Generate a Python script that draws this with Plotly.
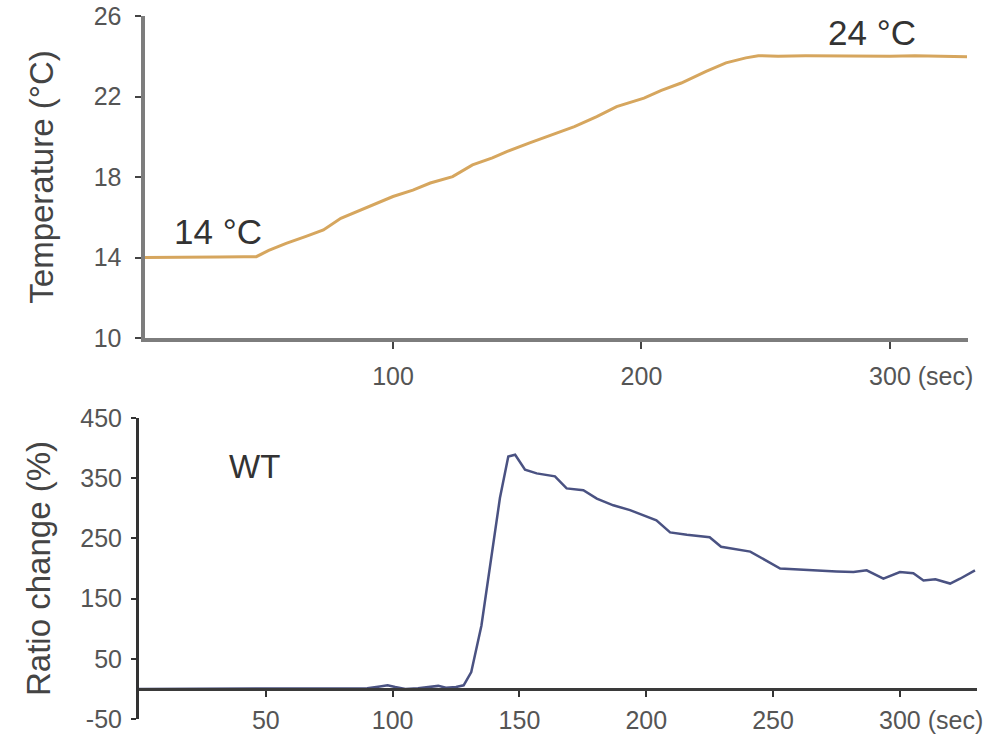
import plotly.graph_objects as go

# Temperature protocol (s, °C)
temp_time = [0, 10, 20, 30, 40, 45, 50, 57, 65, 72, 79, 90, 100, 108, 115, 124,
             132, 140, 146, 155, 166, 173, 182, 190, 201, 208, 216, 226, 234,
             242, 247, 255, 266, 280, 290, 300, 310, 320, 331]
temp_c = [14.0, 14.0, 14.02, 14.03, 14.04, 14.04, 14.35, 14.7, 15.05, 15.37,
          15.95, 16.5, 17.03, 17.35, 17.7, 18.02, 18.6, 18.95, 19.27, 19.7,
          20.18, 20.5, 21.0, 21.5, 21.92, 22.3, 22.67, 23.25, 23.67, 23.92,
          24.03, 24.0, 24.02, 24.0, 23.98, 24.0, 24.02, 24.0, 23.98]

# WT ratio change (s, %)
ratio_time = [0, 10, 20, 30, 40, 50, 60, 70, 80, 90, 95, 98, 101, 105, 110,
              115, 118, 121, 125, 128, 131, 135, 139, 142.3, 145.6, 148.3,
              152.2, 156.8, 164, 168.6, 175.2, 180.5, 187, 193.6, 204, 209.4,
              216, 225, 229.5, 241, 252.8, 260, 267.2, 275, 281.7, 286.9,
              293.5, 300, 305.3, 309.3, 314, 319.8, 323.7, 329.6]
ratio_pct = [0, 0, 0, 0, 0, 1, 0, 0, 0, 1, 4, 6, 3, 0, 1, 4, 5, 2, 3, 6, 28,
             105, 222, 317, 386, 389, 364, 358, 353, 333, 330, 316, 305, 297,
             280, 260, 256, 252, 236, 228, 200, 198, 197, 195, 194, 197, 183,
             194, 192, 180, 182, 175, 183, 197]

temp_ticks = [10, 14, 18, 22, 26]
temp_xticks = [100, 200, 300]
ratio_ticks = [-50, 50, 150, 250, 350, 450]
ratio_xticks = [50, 100, 150, 200, 250, 300]

W, H = 993, 740
FONT = "Liberation Sans, Arial, sans-serif"
TICK_COLOR = "#555555"
NBSP = "\u00a0"


def with_unit(values):
    """Tick texts with the time unit after the last one; the number stays
    centred on its tick by padding the left side equally."""
    texts = [str(v) for v in values]
    texts[-1] = NBSP * 9 + texts[-1] + NBSP + "(sec)"
    return texts


fig = go.Figure()
fig.add_trace(go.Scatter(x=temp_time, y=temp_c, mode="lines",
                         line=dict(color="#d6a65e", width=3),
                         xaxis="x", yaxis="y", showlegend=False))
fig.add_trace(go.Scatter(x=ratio_time, y=ratio_pct, mode="lines",
                         line=dict(color="#4a5282", width=2.5),
                         xaxis="x2", yaxis="y2", showlegend=False))

# panel geometry in pixels
top_x0, top_x1, top_y0, top_y1 = 144.5, 968, 16, 338
bot_x0, bot_x1, bot_y0, bot_y1 = 139, 977, 418, 719
zero_px = 689


def px_x(p):
    return p / W


def px_y(p):
    return 1 - p / H


tickfont = dict(family=FONT, size=25, color=TICK_COLOR)
titlefont = dict(family=FONT, size=33, color="#444444")

fig.update_layout(
    width=W, height=H,
    margin=dict(l=0, r=0, t=0, b=0, autoexpand=False),
    paper_bgcolor="white", plot_bgcolor="white",
    font=dict(family=FONT),
    xaxis=dict(domain=[px_x(top_x0), px_x(top_x1)], range=[0, 331.4],
               anchor="y", tickmode="array", tickvals=temp_xticks,
               ticktext=with_unit(temp_xticks), automargin=False,
               showgrid=False, zeroline=False, showline=True,
               linecolor="#7d7d7d", linewidth=4,
               ticks="outside", ticklen=7, tickwidth=2, tickcolor="#444444",
               tickfont=tickfont, ticklabelstandoff=6),
    yaxis=dict(domain=[px_y(top_y1), px_y(top_y0)], range=[10, 26],
               anchor="x", tickmode="array", tickvals=temp_ticks,
               automargin=False,
               showgrid=False, zeroline=False, showline=True,
               linecolor="#7d7d7d", linewidth=4,
               ticks="outside", ticklen=6, tickwidth=2, tickcolor="#444444",
               tickfont=tickfont, ticklabelstandoff=8,
               title=dict(text="Temperature (°C)", font=titlefont,
                          standoff=31)),
    xaxis2=dict(domain=[px_x(bot_x0), px_x(bot_x1)], range=[0, 330.4],
                anchor="free", position=px_y(zero_px),
                tickmode="array", tickvals=ratio_xticks,
                ticktext=with_unit(ratio_xticks), automargin=False,
                showgrid=False, zeroline=False, showline=True,
                linecolor="#3a3a3a", linewidth=3,
                ticks="outside", ticklen=6, tickwidth=2, tickcolor="#333333",
                tickfont=tickfont, ticklabelstandoff=2),
    yaxis2=dict(domain=[px_y(bot_y1), px_y(bot_y0)], range=[-50, 450],
                anchor="x2", tickmode="array", tickvals=ratio_ticks,
                ticktext=[str(v) for v in ratio_ticks], automargin=False,
                showgrid=False, zeroline=False, showline=True,
                linecolor="#333333", linewidth=3,
                ticks="outside", ticklen=5, tickwidth=2, tickcolor="#333333",
                tickfont=tickfont, ticklabelstandoff=4,
                title=dict(text="Ratio change (%)", font=titlefont,
                           standoff=20)),
)

label_font = dict(family=FONT, size=35, color="#333333")
fig.add_annotation(x=29.6, y=15.27, xref="x", yref="y", text="14 °C",
                   showarrow=False, font=label_font)
fig.add_annotation(x=292.8, y=25.17, xref="x", yref="y", text="24 °C",
                   showarrow=False, font=label_font)
fig.add_annotation(x=45.7, y=370, xref="x2", yref="y2", text="WT",
                   showarrow=False, font=dict(family=FONT, size=33,
                                              color="#333333"))

fig.write_html("out.html")
